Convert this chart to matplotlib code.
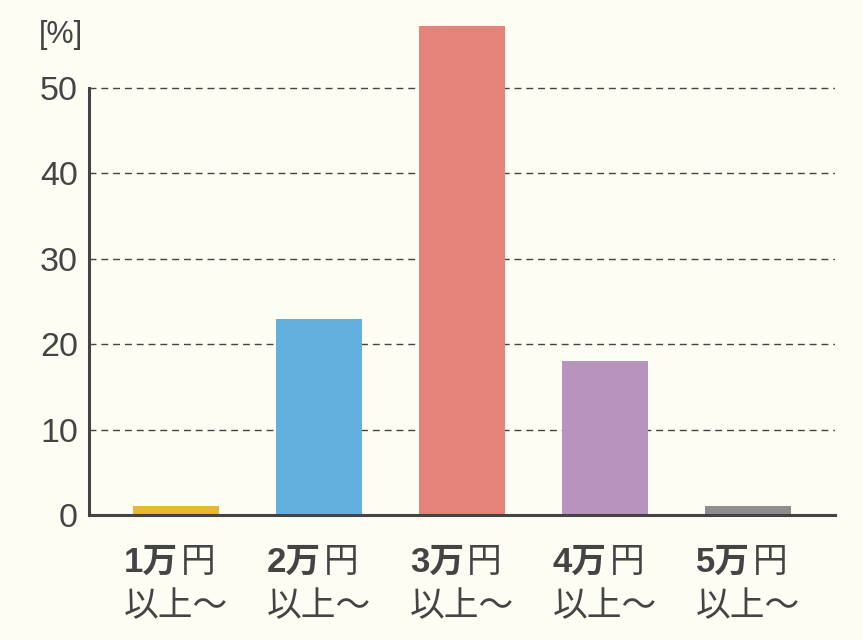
import matplotlib
matplotlib.use('Agg')
import matplotlib.pyplot as plt
import matplotlib.transforms as mtransforms

plt.rcParams['font.family'] = ['Liberation Sans', 'Noto Sans CJK JP', 'DejaVu Sans']

# データ
amounts = ['1万', '2万', '3万', '4万', '5万']
values = [1, 23, 57.3, 18, 1]
colors = ['#e8b830', '#62b0de', '#e5827a', '#b893bd', '#8e8e8e']
yticks = [0, 10, 20, 30, 40, 50]

bg = '#fdfdf4'
ink = '#444444'

fig = plt.figure(figsize=(8.63, 6.4), dpi=100, facecolor=bg)
ax = fig.add_axes([0.1031, 0.1953, 0.8645, 0.7739])
ax.set_facecolor(bg)

x = list(range(len(amounts)))
ax.bar(x, values, width=0.6, color=colors, zorder=3)

ax.set_xlim(-0.61, 4.61)
ax.set_ylim(0, 58)
ax.set_yticks(yticks)
ax.set_yticklabels([str(v) for v in yticks], fontsize=24.5, color=ink)
ax.tick_params(axis='y', length=0, pad=8)
ax.set_xticks([])

for v in yticks[1:]:
    ax.axhline(v, color=ink, lw=1, ls=(0, (5, 3.5)), zorder=1)

for s in ['top', 'right']:
    ax.spines[s].set_visible(False)
for s in ['left', 'bottom']:
    ax.spines[s].set_color(ink)
    ax.spines[s].set_linewidth(2.2)
    ax.spines[s].set_zorder(4)
ax.spines['left'].set_bounds(0, 50)

fig.text(0.045, 0.968, '[%]', fontsize=22, color=ink, va='top', ha='left')

# x軸ラベル（1行目: 数字+万 太字, 円 通常 / 2行目: 以上～）
cjk = ['Liberation Sans', 'Noto Sans CJK JP']
trans = mtransforms.blended_transform_factory(ax.transData, fig.transFigure)
renderer = fig.canvas.get_renderer()
for i, amt in zip(x, amounts):
    t2 = ax.text(i, 0.038, '以上～', transform=trans, ha='center', va='baseline',
                 fontsize=25, color=ink, family=cjk)
    bb = t2.get_window_extent(renderer)
    left = bb.x0
    t1 = fig.text(left / fig.bbox.width, 0.106, amt, ha='left', va='baseline',
                  fontsize=25, fontweight='bold', color=ink, family=cjk)
    bb1 = t1.get_window_extent(renderer)
    fig.text((bb1.x1 + 3) / fig.bbox.width, 0.106, '円', ha='left', va='baseline',
             fontsize=25, color=ink, family=cjk)

fig.savefig('out.png', dpi=100, facecolor=bg)
